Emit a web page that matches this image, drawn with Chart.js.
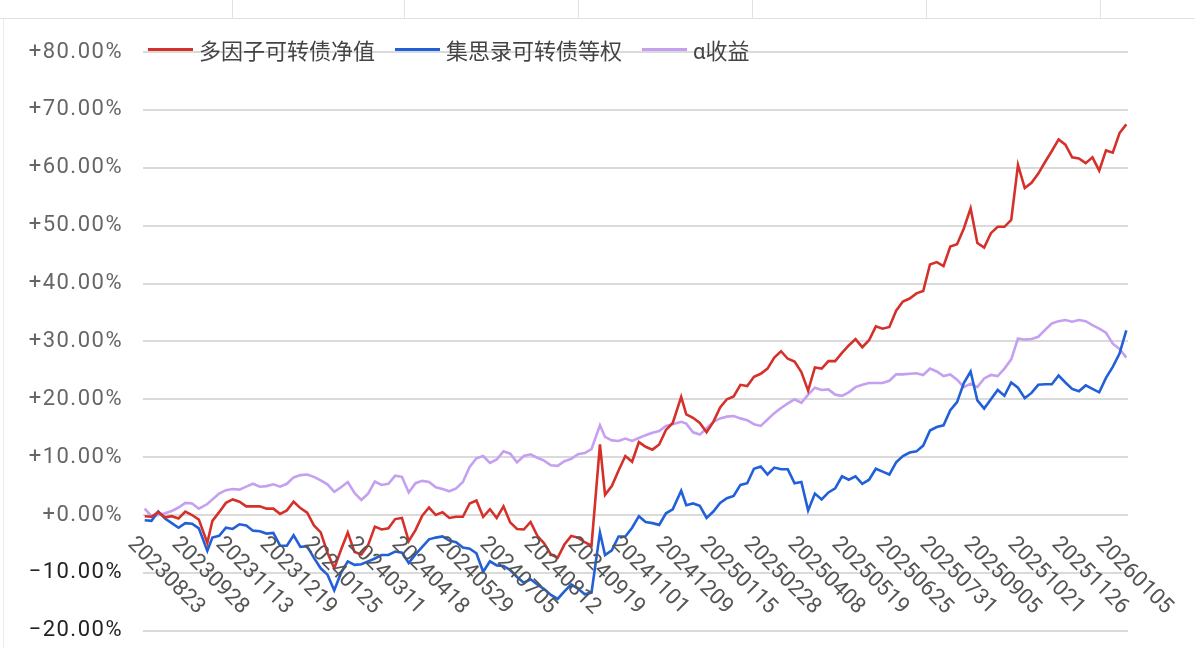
<!DOCTYPE html>
<html>
<head>
<meta charset="utf-8">
<title>多因子可转债净值</title>
<script src="https://cdn.jsdelivr.net/npm/chart.js"></script>
<style>
    body { margin: 0; width: 1195px; height: 648px; overflow: hidden; background: #fff; position: relative;
           font-family: Roboto, "Noto Sans CJK SC", sans-serif; }
    #sheetTop { position: absolute; left: 0; top: 0; width: 1195px; height: 18px; border-bottom: 1px solid #e2e2e2; }
    .col { position: absolute; top: 0; width: 1px; height: 18px; background: #e2e2e2; }
    #sheetLeft { position: absolute; left: 3px; top: 19px; width: 1px; height: 629px; background: #ececec; }
    #graph { position: absolute; left: 0; top: 0; }
    #legend { position: absolute; left: 148px; top: 33px; display: flex; align-items: center; font-size: 22px; color: #444; }
    .item { display: flex; align-items: center; margin-right: 20px; }
    .swatch { width: 45px; height: 3px; margin-right: 6px; }
</style>
</head>
<body>
<div id="sheetTop">
    <div class="col" style="left:232px"></div>
    <div class="col" style="left:404px"></div>
    <div class="col" style="left:578px"></div>
    <div class="col" style="left:752px"></div>
    <div class="col" style="left:926px"></div>
    <div class="col" style="left:1100px"></div>
</div>
<div id="sheetLeft"></div>
<!-- canvas runs a little past the window bottom so the plot reaches down to y=628 -->
<canvas id="graph" width="1195" height="664"></canvas>
<div id="legend"></div>

<script>
// trading day number counted from 20230823
var tradeDay = [0,4,8,12,16,20,24,28,32,37,40,44,48,52,56,60,64,68,72,76,80,84,88,92,96,100,104,108,112,116,
    120,124,128,132,136,140,144,148,152,156,160,164,168,172,176,180,184,188,192,196,200,204,208,212,216,220,224,228,232,236,
    240,244,248,252,256,260,264,269,272,276,280,284,288,292,296,300,304,308,312,317,320,324,328,332,336,340,344,348,352,356,
    360,364,368,372,376,380,384,388,392,396,400,404,408,412,416,420,424,428,432,436,440,444,448,452,456,460,464,468,472,476,
    480,484,488,492,496,500,504,508,512,516,520,524,528,532,536,540,544,548,552,556,560,564,568,572,576,580]

// a tick label every 26 trading days
var tickEvery = 26
var tickDates = ["20230823","20230928","20231113","20231219","20240125","20240311","20240418","20240529",
    "20240705","20240812","20240919","20241101","20241209","20250115","20250228","20250408","20250519",
    "20250625","20250731","20250905","20251021","20251126","20260105"]

var seriesNames = ["多因子可转债净值", "集思录可转债等权", "α收益"]
var seriesColors = ["#d5312b", "#2160d8", "#c5a0f0"]

var multiFactor = [-0.2,-0.3,0.5,-0.4,-0.2,-0.6,0.6,0,-0.8,-4.8,
    -1.0,0.5,2.1,2.7,2.3,1.5,1.5,1.5,1.1,1.1,
    0.2,0.8,2.3,1.2,0.4,-1.8,-3.0,-6.5,-9.2,-6.0,
    -3.0,-6.4,-6.8,-5.2,-2.0,-2.5,-2.3,-0.7,-0.5,-4.5,
    -2.6,-0.1,1.3,0,0.5,-0.5,-0.3,-0.3,2.0,2.5,
    -0.3,1.0,-0.5,1.5,-1.3,-2.4,-2.5,-1.2,-3.6,-4.9,
    -6.8,-7.4,-5.1,-3.6,-3.9,-4.7,-5.3,12.2,3.5,5.0,
    7.7,10.2,9.2,12.6,11.8,11.3,12.2,14.7,15.9,20.4,
    17.4,16.8,15.9,14.3,16.1,18.6,20.0,20.5,22.5,22.3,
    23.9,24.4,25.3,27.2,28.3,27.0,26.5,24.7,21.5,25.5,
    25.3,26.6,26.6,28.0,29.3,30.4,29.0,30.2,32.6,32.2,
    32.5,35.3,36.9,37.4,38.3,38.7,43.3,43.7,43.0,46.4,
    46.8,49.5,53.0,47.0,46.2,48.7,49.8,49.8,51.0,60.5,
    56.5,57.4,59.0,61.0,62.9,64.9,64.0,61.8,61.6,60.8,
    61.8,59.5,63.0,62.6,66.0,67.5]

var equalWeight = [-0.9,-1.0,0.6,-0.6,-1.4,-2.2,-1.4,-1.5,-2.3,-6.2,
    -3.9,-3.6,-2.2,-2.4,-1.6,-1.8,-2.7,-2.8,-3.2,-3.1,
    -5.3,-5.3,-3.5,-5.5,-5.4,-7.4,-9.2,-10.3,-13.0,-10.0,
    -8.0,-8.6,-8.5,-8.0,-7.5,-6.9,-6.9,-6.3,-6.5,-8.3,
    -6.8,-5.5,-4.2,-3.9,-3.7,-4.4,-4.7,-5.6,-5.8,-6.6,
    -9.8,-8.0,-8.7,-8.8,-9.5,-10.7,-11.7,-11.1,-12.0,-12.8,
    -13.8,-14.5,-13.2,-12.0,-12.7,-13.7,-13.4,-3.0,-6.9,-6.1,
    -3.7,-3.7,-2.2,-0.2,-1.2,-1.4,-1.7,0.3,1.0,4.2,
    1.7,2.0,1.6,-0.5,0.6,2.1,2.9,3.3,5.2,5.5,
    8.0,8.4,7.0,8.2,7.9,7.9,5.5,5.7,0.8,3.7,
    2.7,3.9,4.6,6.7,6.1,6.7,5.4,6.1,8.0,7.5,
    7.0,9.1,10.2,10.8,11.0,12.0,14.6,15.2,15.5,18.1,
    19.5,22.8,24.8,19.8,18.4,20.0,21.6,20.6,22.9,22.0,
    20.2,21.1,22.5,22.6,22.6,24.1,22.9,21.8,21.4,22.4,
    21.8,21.2,23.7,25.6,27.9,31.9]

var alphaReturn = [1.1,-0.2,0,0.3,0.7,1.3,2.1,2.0,1.1,1.9,
    2.7,3.7,4.3,4.5,4.4,4.9,5.4,4.9,5.0,5.3,
    4.9,5.4,6.5,6.9,7.0,6.6,6.0,5.3,4.0,4.8,
    5.7,3.8,2.6,3.7,5.8,5.2,5.4,6.8,6.6,3.9,
    5.5,5.9,5.7,4.8,4.5,4.1,4.6,5.7,8.3,9.8,
    10.2,9.0,9.6,11.0,10.6,9.1,10.2,10.5,9.9,9.4,
    8.6,8.5,9.3,9.7,10.5,10.7,11.4,15.5,13.5,12.9,
    12.8,13.2,12.8,13.3,13.8,14.2,14.5,15.4,15.7,16.1,
    15.8,14.3,13.9,15.0,16.1,16.7,17.0,17.1,16.7,16.4,
    15.7,15.4,16.5,17.6,18.5,19.3,20.0,19.4,20.8,22.0,
    21.6,21.7,20.8,20.6,21.2,22.1,22.5,22.8,22.8,22.8,
    23.2,24.3,24.3,24.4,24.5,24.2,25.3,24.8,24.0,24.3,
    23.4,22.1,22.7,22.1,23.6,24.2,24.0,25.3,26.9,30.5,
    30.3,30.4,30.8,32.0,33.1,33.5,33.7,33.4,33.7,33.5,
    32.8,32.2,31.5,29.6,28.7,27.2]

var yMin = -20, yMax = 80, yStep = 10

// legend sits on top of the plot, like the original
var legendBox = document.getElementById("legend")
seriesNames.forEach((name, i) => {
    var item = document.createElement("div")
    item.className = "item"
    item.innerHTML = '<span class="swatch" style="background:' + seriesColors[i] + '"></span><span>' + name + '</span>'
    legendBox.appendChild(item)
})

// wider spacing for the percent labels on the left
const wideTicks = {
    id: "wideTicks",
    beforeDraw(chart) { chart.ctx.letterSpacing = "1.5px" },
    beforeDatasetsDraw(chart) { chart.ctx.letterSpacing = "0px" }
}

// date labels hang off the zero line, turned 45 degrees downwards
const dateLabels = {
    id: "dateLabels",
    afterDraw(chart) {
        const ctx = chart.ctx
        const xs = chart.scales.x
        const y0 = chart.scales.y.getPixelForValue(0)
        ctx.save()
        ctx.font = "22px Roboto"
        ctx.fillStyle = "#555"
        ctx.textAlign = "left"
        ctx.textBaseline = "top"
        tickDates.forEach((d, k) => {
            ctx.save()
            ctx.translate(xs.getPixelForValue(k * tickEvery) - 6, y0 + 18)
            ctx.rotate(Math.PI / 4)
            ctx.fillText(d, 0, 0)
            ctx.restore()
        })
        ctx.restore()
    }
}

var allSeries = [multiFactor, equalWeight, alphaReturn]
var datas = {
    labels: tradeDay,
    datasets: allSeries.map((vals, i) => ({
        label: seriesNames[i],
        data: vals,
        borderColor: seriesColors[i],
        backgroundColor: seriesColors[i],
        borderWidth: 2.6,
        pointRadius: 0,
        tension: 0
    }))
}

const graphConfig = {
    type: "line",
    data: datas,
    options: {
        responsive: false,
        animation: false,
        layout: { padding: { top: 52, bottom: 4, left: 0, right: 67 } },
        plugins: {
            legend: { display: false },
            tooltip: { enabled: false }
        },
        scales: {
            x: {
                type: "linear",
                min: -1,
                max: 581,
                display: false
            },
            y: {
                min: yMin,
                max: yMax,
                afterFit: s => { s.width = 143 },
                border: { display: false },
                grid: { color: "#dadada", lineWidth: 2, drawTicks: false },
                ticks: {
                    stepSize: yStep,
                    padding: 20,
                    font: { family: "Roboto", size: 22 },
                    color: c => c.tick.value < 0 ? "#222" : "#666",
                    callback: v => (v < 0 ? "\u2212" : "+") + Math.abs(v).toFixed(2) + "%"
                }
            }
        }
    },
    plugins: [wideTicks, dateLabels]
}

new Chart(document.getElementById("graph"), graphConfig)
</script>
</body>
</html>
